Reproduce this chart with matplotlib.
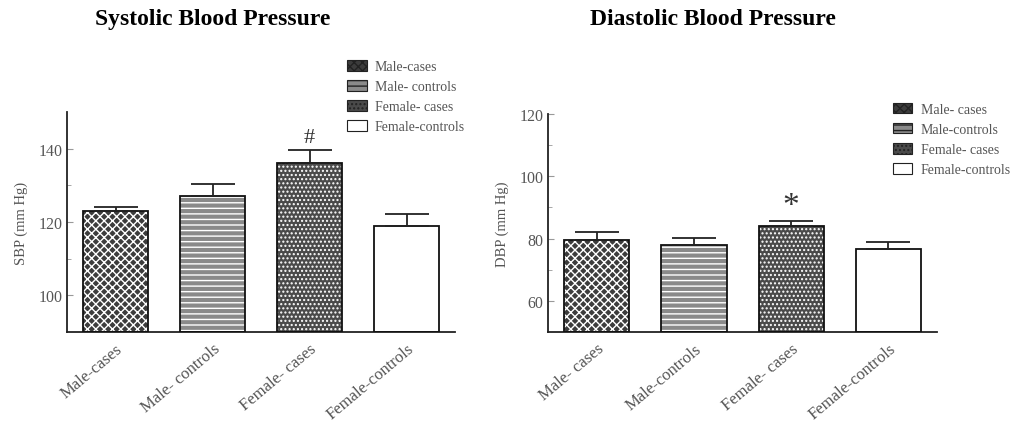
import matplotlib
matplotlib.use("Agg")
import matplotlib.pyplot as plt
from matplotlib.patches import Patch
import numpy as np

# group means and SEM (mm Hg)
sbp_groups = ["Male-cases", "Male- controls", "Female- cases", "Female-controls"]
sbp_mean = [122.9, 127.2, 136.2, 119.0]
sbp_sem = [1.1, 3.3, 3.6, 3.2]

dbp_groups = ["Male- cases", "Male-controls", "Female- cases", "Female-controls"]
dbp_mean = [79.7, 77.8, 83.9, 76.8]
dbp_sem = [2.5, 2.3, 1.9, 2.1]

plt.rcParams['font.family'] = ['Liberation Serif', 'DejaVu Serif']
plt.rcParams['hatch.linewidth'] = 1.0

# fill / hatch per group (hatch drawn in white on a grey base)
fills = ['#3c3c3c', '#8a8a8a', '#4a4a4a', 'white']
hatches = ['xxxx', '---', '....', None]


def draw_panel(ax, groups, means, sems, ylim, yticks, minor, ylabel, title, title_x,
               mark, mark_y, mark_size, legend_labels, legend_anchor):
    x = np.arange(len(groups))
    w = 0.67
    heights = np.array(means) - ylim[0]
    for i in range(len(groups)):
        ax.bar(x[i], heights[i], w, bottom=ylim[0], color=fills[i], hatch=hatches[i],
               edgecolor='white', linewidth=0, zorder=2)
    ax.bar(x, heights, w, bottom=ylim[0], fill=False,
           edgecolor='#111111', linewidth=1.3, zorder=3)
    ax.errorbar(x, means, yerr=[[0] * len(means), sems], fmt='none', ecolor='#222222',
                elinewidth=1.3, capsize=16, capthick=1.3, zorder=4)
    ax.text(x[2], mark_y, mark, ha='center', va='center', fontsize=mark_size, color='#333333')

    ax.set_xlim(-0.5, 3.5)
    ax.set_ylim(*ylim)
    ax.set_yticks(yticks)
    ax.set_yticks(minor, minor=True)
    ax.set_xticks(x)
    ax.set_xticklabels(groups, rotation=40, ha='right', rotation_mode='anchor',
                       fontsize=12, color='#555555')
    ax.tick_params(axis='x', length=0, pad=6)
    ax.tick_params(axis='y', which='both', direction='in', color='#999999',
                   labelsize=11.5, labelcolor='#555555')
    ax.tick_params(axis='y', which='major', length=4)
    ax.tick_params(axis='y', which='minor', length=3)
    for s in ['top', 'right']:
        ax.spines[s].set_visible(False)
    for s in ['left', 'bottom']:
        ax.spines[s].set_linewidth(1.3)
        ax.spines[s].set_color('#222222')
    ax.set_ylabel(ylabel, fontsize=10.5, color='#555555')
    ax.yaxis.set_label_coords(-0.10, 0.5)

    handles = [Patch(facecolor=fills[i], hatch=hatches[i], edgecolor='#222222',
                     linewidth=0.8, label=legend_labels[i]) for i in range(4)]
    ax.legend(handles=handles, loc='upper left', bbox_to_anchor=legend_anchor,
              bbox_transform=ax.figure.transFigure, frameon=False, fontsize=10,
              handlelength=1.4, handleheight=0.8, handletextpad=0.6, labelspacing=0.5,
              borderaxespad=0, borderpad=0, labelcolor='#555555')
    ax.figure.text(title_x, 0.955, title, ha='center', va='center',
                   fontsize=17, fontweight='bold')


fig = plt.figure(figsize=(10.36, 4.27), dpi=100)
ax1 = fig.add_axes([0.0647, 0.220, 0.3745, 0.515])
ax2 = fig.add_axes([0.529, 0.220, 0.3755, 0.5105])

draw_panel(ax1, sbp_groups, sbp_mean, sbp_sem, (90, 150), [100, 120, 140], [110, 130],
           "SBP (mm Hg)", "Systolic Blood Pressure", 0.205, "#", 143, 16,
           ["Male-cases", "Male- controls", "Female- cases", "Female-controls"], (0.335, 0.857))
draw_panel(ax2, dbp_groups, dbp_mean, dbp_sem, (50, 120), [60, 80, 100, 120], [70, 90, 110],
           "DBP (mm Hg)", "Diastolic Blood Pressure", 0.688, "*", 90.5, 24,
           ["Male- cases", "Male-controls", "Female- cases", "Female-controls"], (0.862, 0.757))

fig.savefig("out.png", dpi=100, facecolor='white')
